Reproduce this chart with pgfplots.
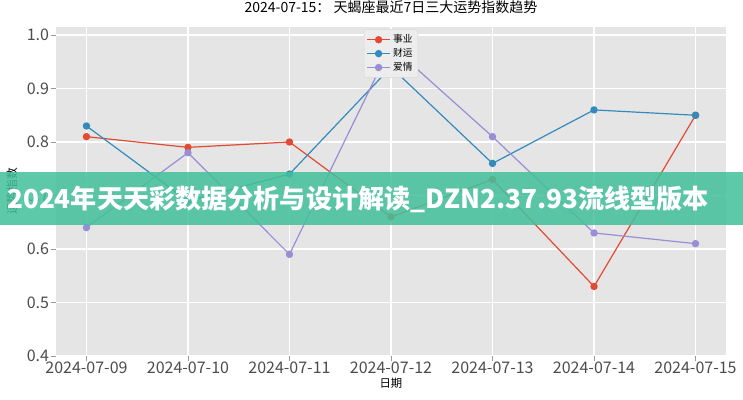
\documentclass[border=0pt]{standalone}
\usepackage{pgfplots}
\pgfplotsset{compat=1.18}
\usepackage{fontspec}
\setmainfont{Noto Sans CJK SC}
\definecolor{cRed}{HTML}{E24A33}
\definecolor{cBlue}{HTML}{348ABD}
\definecolor{cPurple}{HTML}{988ED5}
\definecolor{bgGray}{HTML}{E5E5E5}
\definecolor{banner}{RGB}{68,192,155}
\begin{document}
\begin{tikzpicture}
\path[use as bounding box] (0pt,0pt) rectangle (557.25pt,300pt);
\begin{axis}[
  at={(42pt,33pt)}, anchor=south west,
  scale only axis, width=502.5pt, height=246.75pt,
  xmin=-0.3, xmax=6.3, ymin=0.4, ymax=1.015,
  axis background/.style={fill=bgGray},
  axis line style={draw=none},
  grid=major, major grid style={white, line width=0.9pt},
  xtick={0,...,6},
  xticklabels={2024-07-09,2024-07-10,2024-07-11,2024-07-12,2024-07-13,2024-07-14,2024-07-15},
  ytick={0.4,0.5,0.6,0.7,0.8,0.9,1.0},
  yticklabel style={/pgf/number format/fixed, /pgf/number format/fixed zerofill, /pgf/number format/precision=1},
  /pgf/number format/assume math mode=true,
  tick align=outside, xtick pos=bottom, ytick pos=left,
  major tick length=3.5pt,
  tick style={draw=gray!80, line width=0.6pt},
  ticklabel style={font=\fontsize{12}{14}\selectfont, text=black!70},
  xticklabel style={inner sep=1pt},
  yticklabel style={inner sep=1.5pt},
  title={2024-07-15： 天蝎座最近7日三大运势指数趋势},
  title style={font=\fontsize{10.5}{12}\selectfont, at={(0.5,1)}, anchor=south, inner sep=0pt, yshift=4pt},
  xlabel={日期},
  xlabel style={font=\fontsize{8.5}{10}\selectfont, inner sep=0pt, yshift=-2pt},
  ylabel={运势指数},
  ylabel style={font=\fontsize{8.8}{10}\selectfont, inner sep=0pt, at={(axis description cs:-0.0657,0.5)}, anchor=center},
  legend style={at={(0.5,0.993)}, anchor=north, font=\fontsize{7.3}{8}\selectfont,
    fill=bgGray!70!white, draw=gray!30, rounded corners=1.5pt, inner sep=1.8pt,
    row sep=-1.2pt},
  legend cell align=left,
  every axis plot/.append style={line width=0.9pt, mark=*, mark size=2.3pt},
]
\addplot[color=cRed, mark options={fill=cRed}] coordinates {(0,0.81) (1,0.79) (2,0.80) (3,0.66) (4,0.73) (5,0.53) (6,0.85)};
\addlegendentry{事业}
\addplot[color=cBlue, mark options={fill=cBlue}] coordinates {(0,0.83) (1,0.69) (2,0.74) (3,0.94) (4,0.76) (5,0.86) (6,0.85)};
\addlegendentry{财运}
\addplot[color=cPurple, mark options={fill=cPurple}] coordinates {(0,0.64) (1,0.78) (2,0.59) (3,0.98) (4,0.81) (5,0.63) (6,0.61)};
\addlegendentry{爱情}
\end{axis}
\fill[banner, opacity=0.86] (0pt,131.25pt) rectangle (557.25pt,171pt);
\node[text=white, font=\fontsize{19.6}{22}\selectfont\bfseries, inner sep=0pt] at (268.5pt,150.75pt) {2024年天天彩数据分析与设计解读\_DZN2.37.93流线型版本};
\end{tikzpicture}
\end{document}
